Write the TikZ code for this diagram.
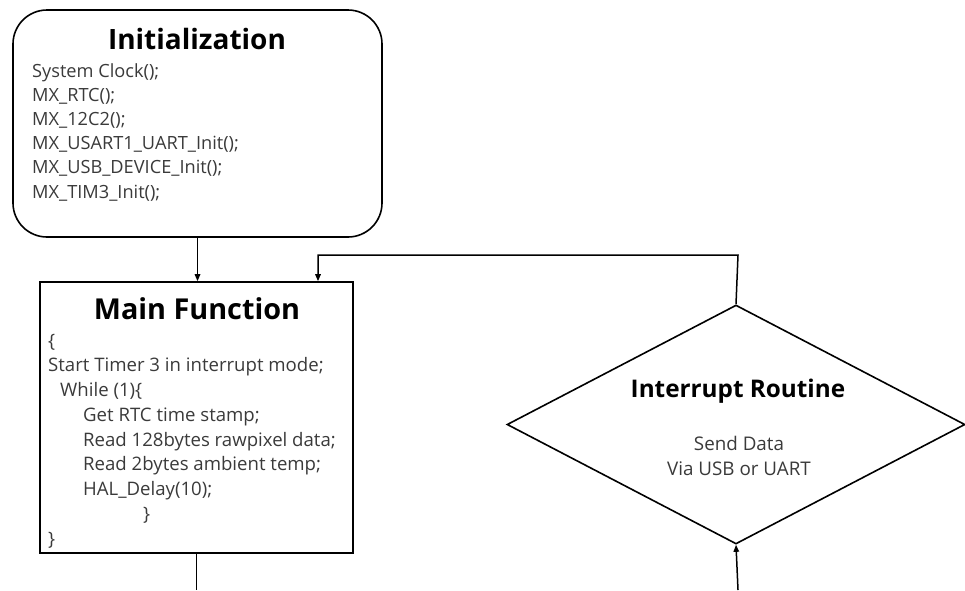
\documentclass[tikz,border=0pt]{standalone}
\usepackage{fontspec}
\setmainfont{Open Sans}
\usetikzlibrary{shapes.geometric,arrows.meta}
\definecolor{bodygray}{HTML}{3A3A3A}
\tikzset{
  box/.style={draw=black, line width=1.6pt, inner sep=0pt},
  conn/.style={draw=black, line width=1.5pt},
  arr/.style={conn, -{Triangle[length=7pt,width=5.5pt]}},
  heading/.style={font=\bfseries\fontsize{28}{30}\selectfont, text=black, inner sep=0pt},
  subhead/.style={font=\bfseries\fontsize{24.3}{26}\selectfont, text=black, inner sep=0pt},
  body/.style={text=bodygray, align=left, inner sep=0pt, anchor=base west},
  cbody/.style={font=\fontsize{18.8}{25}\selectfont, text=bodygray, align=center, inner sep=0pt},
}
\begin{document}
\begin{tikzpicture}[x=1pt,y=-1pt]
\useasboundingbox (0,0) rectangle (965,590);
% Initialization box
\node[box, rounded corners=34pt, minimum width=369pt, minimum height=227pt] (init) at (197.5,123.5) {};
\node[heading] (inith) at (197,39) {Initialization};
\node[body, font=\fontsize{18.2}{24.2}\selectfont] (initb) at (32,198) {System Clock();\\MX\_RTC();\\MX\_12C2();\\MX\_USART1\_UART\_Init();\\MX\_USB\_DEVICE\_Init();\\MX\_TIM3\_Init();};
% Main box
\node[box, minimum width=313pt, minimum height=271pt] (main) at (196.5,417.5) {};
\node[heading, font=\bfseries\fontsize{28.8}{30}\selectfont] (mainh) at (197,308.5) {Main Function};
\node[body, font=\fontsize{18.6}{24.75}\selectfont] (mainb) at (48,545) {\{\\Start Timer 3 in interrupt mode;\\\hspace*{12pt}While (1)\{\\\hspace*{35pt}Get RTC time stamp;\\\hspace*{35pt}Read 128bytes rawpixel data;\\\hspace*{35pt}Read 2bytes ambient temp;\\\hspace*{35pt}HAL\_Delay(10);\\\hspace*{95pt}\}\\\}};
% Diamond
\node[box, diamond, minimum width=458pt, minimum height=239pt] (intr) at (736,424.5) {};
\node[subhead] (intrh) at (738,391) {Interrupt Routine};
\node[cbody] (intrb) at (739,455.5) {Send Data\\Via USB or UART};
% connectors
\coordinate (loopR) at (738,255);
\coordinate (loopL) at (318,255);
\coordinate (bottomL) at (196.5,590);
\coordinate (bottomR) at (738,590);
\draw[arr] (init.south) -- (init.south |- main.north);
\draw[arr] (intr.north) -- (loopR) -- (loopL) -- (main.north -| loopL);
\draw[conn] (main.south) -- (bottomL);
\draw[arr] (bottomR) -- (intr.south);
\end{tikzpicture}
\end{document}
